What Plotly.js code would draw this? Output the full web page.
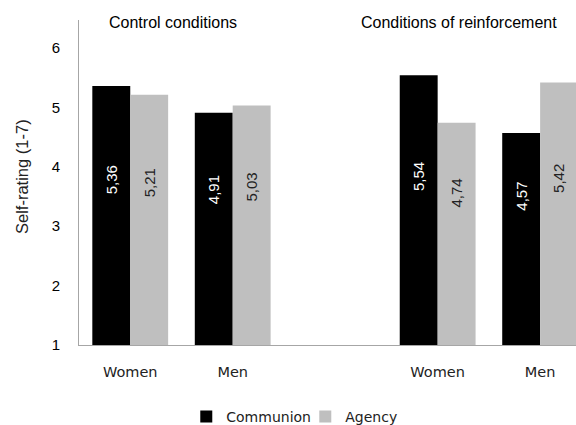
<!DOCTYPE html>
<html>
<head>
<meta charset="utf-8">
<script src="https://cdn.plot.ly/plotly-3.0.1.min.js"></script>
<style>html,body{margin:0;padding:0;background:#fff;}#chart{width:576px;height:425px;}</style>
</head>
<body>
<div id="chart"></div>
<script>
// ---- data ----
const groups = ['Control conditions', 'Conditions of reinforcement'];
const sexes = ['Women', 'Men'];
// order: control-women, control-men, reinforcement-women, reinforcement-men
const communion = [5.36, 4.91, 5.54, 4.57];
const agency = [5.21, 5.03, 4.74, 5.42];
const seriesNames = ['Communion', 'Agency'];
const yTicks = [1, 2, 3, 4, 5, 6];

// ---- build ----
const xs = [];
const tickText = [];
groups.forEach((g, gi) => sexes.forEach((s, si) => { xs.push(gi * 3 + si); tickText.push(s); }));
const fmt = v => v.toFixed(2).replace('.', ',');

const traces = [
  {type: 'bar', name: seriesNames[0], x: xs, y: communion, marker: {color: '#000000'}, hoverinfo: 'none'},
  {type: 'bar', name: seriesNames[1], x: xs, y: agency, marker: {color: '#bfbfbf'}, hoverinfo: 'none'}
];

const annotations = [];
const half = 0.185;
[communion, agency].forEach((arr, k) => {
  arr.forEach((v, i) => {
    annotations.push({
      x: xs[i] + (k === 0 ? -half : half), y: 1.9 + 0.35 * v,
      xref: 'x', yref: 'y', text: fmt(v), showarrow: false, textangle: -90,
      font: {family: 'Liberation Sans, Arial, sans-serif', size: 15, color: k === 0 ? '#ffffff' : '#222222'}
    });
  });
});
// group titles
const groupCenters = [0.189, 0.765];
groups.forEach((g, gi) => annotations.push({
  x: groupCenters[gi], y: 0.991, xref: 'paper', yref: 'paper', text: g, showarrow: false,
  xanchor: 'center', yanchor: 'middle',
  font: {family: 'Liberation Sans, Arial, sans-serif', size: 16, color: '#000'}
}));
// y title
annotations.push({
  x: -0.1147, y: 0.52, xref: 'paper', yref: 'paper', text: 'Self-rating (1-7)', showarrow: false,
  textangle: -90, xanchor: 'center', yanchor: 'middle',
  font: {family: 'Liberation Sans, Arial, sans-serif', size: 16.5, color: '#222'}
});

const layout = {
  width: 576, height: 425,
  margin: {l: 79, r: 0, t: 20, b: 80},
  paper_bgcolor: '#fff', plot_bgcolor: '#fff',
  barmode: 'group', bargap: 0.26, bargroupgap: 0,
  showlegend: true,
  legend: {orientation: 'h', xref: 'container', yref: 'container', x: 0.53, y: 0.019,
           xanchor: 'center', yanchor: 'middle', itemwidth: 30,
           entrywidth: 74, entrywidthmode: 'pixels',
           font: {family: 'DejaVu Sans, sans-serif', size: 14, color: '#222'}},
  xaxis: {
    range: [-0.5, 4.35], tickvals: xs, ticktext: tickText, showgrid: false, zeroline: false,
    showline: true, linecolor: '#a6a6a6', linewidth: 1,
    ticks: 'outside', ticklen: 14, tickcolor: 'rgba(0,0,0,0)',
    tickfont: {family: 'DejaVu Sans, sans-serif', size: 14.5, color: '#222'}, fixedrange: true
  },
  yaxis: {
    range: [1, 6.47], tickvals: yTicks, showgrid: false, zeroline: false,
    showline: true, linecolor: '#a6a6a6', linewidth: 1,
    ticks: 'outside', ticklen: 15, tickcolor: 'rgba(0,0,0,0)',
    tickfont: {family: 'Liberation Sans, Arial, sans-serif', size: 15, color: '#000'}, fixedrange: true
  },
  annotations: annotations
};

Plotly.newPlot('chart', traces, layout, {displayModeBar: false, staticPlot: true});
</script>
</body>
</html>
